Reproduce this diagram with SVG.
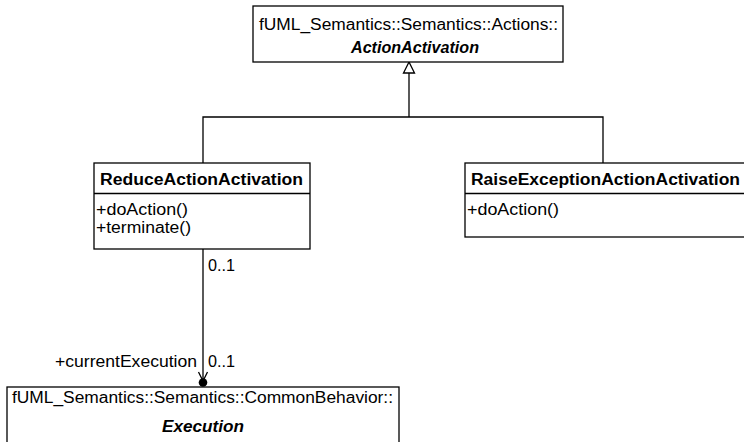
<svg xmlns="http://www.w3.org/2000/svg" width="744" height="442" viewBox="0 0 744 442">
<style>
.box{fill:#fff;stroke:#000;stroke-width:1.3}
.ln{fill:none;stroke:#000;stroke-width:1.3}
text{font-family:"Liberation Sans",Arial,sans-serif;font-size:16px;fill:#000}
.b{font-weight:bold}
.bi{font-weight:bold;font-style:italic}
.m{text-anchor:middle}
</style>
<rect width="744" height="442" fill="#fff"/>
<g id="connectors">
<polyline class="ln" points="409,73 409,117"/>
<polyline class="ln" points="203,163 203,117 603,117 603,163"/>
<polygon points="409,62 403.5,73 414.5,73" fill="#fff" stroke="#000" stroke-width="1.3"/>
<line class="ln" x1="203" y1="249" x2="203" y2="383"/>
<polyline class="ln" points="198.5,372 203,381 207.5,372"/>
<circle cx="203" cy="382.5" r="4.3" fill="#000"/>
<text x="208" y="271" textLength="27" lengthAdjust="spacingAndGlyphs">0..1</text>
<text x="197" y="367" text-anchor="end" textLength="142" lengthAdjust="spacingAndGlyphs">+currentExecution</text>
<text x="208" y="367" textLength="27" lengthAdjust="spacingAndGlyphs">0..1</text>
</g>
<g id="ActionActivation">
<rect class="box" x="253" y="6" width="310" height="56"/>
<text x="259" y="30" textLength="299" lengthAdjust="spacingAndGlyphs">fUML_Semantics::Semantics::Actions::</text>
<text class="bi" x="351" y="53" textLength="128" lengthAdjust="spacingAndGlyphs">ActionActivation</text>
</g>
<g id="ReduceActionActivation">
<rect class="box" x="94" y="163" width="216" height="86"/>
<line class="ln" x1="94" y1="193.5" x2="310" y2="193.5"/>
<text class="b" x="100" y="185" textLength="203" lengthAdjust="spacingAndGlyphs">ReduceActionActivation</text>
<text x="96" y="215" textLength="92" lengthAdjust="spacingAndGlyphs">+doAction()</text>
<text x="96" y="233" textLength="95" lengthAdjust="spacingAndGlyphs">+terminate()</text>
</g>
<g id="RaiseExceptionActionActivation">
<rect class="box" x="465" y="163" width="285" height="74"/>
<line class="ln" x1="465" y1="193.5" x2="750" y2="193.5"/>
<text class="b" x="471" y="185" textLength="269" lengthAdjust="spacingAndGlyphs">RaiseExceptionActionActivation</text>
<text x="467" y="215" textLength="92" lengthAdjust="spacingAndGlyphs">+doAction()</text>
</g>
<g id="Execution">
<rect class="box" x="7" y="387" width="392" height="70"/>
<text x="12" y="403" textLength="381" lengthAdjust="spacingAndGlyphs">fUML_Semantics::Semantics::CommonBehavior::</text>
<text class="bi" x="162" y="432" textLength="82" lengthAdjust="spacingAndGlyphs">Execution</text>
</g>
</svg>
